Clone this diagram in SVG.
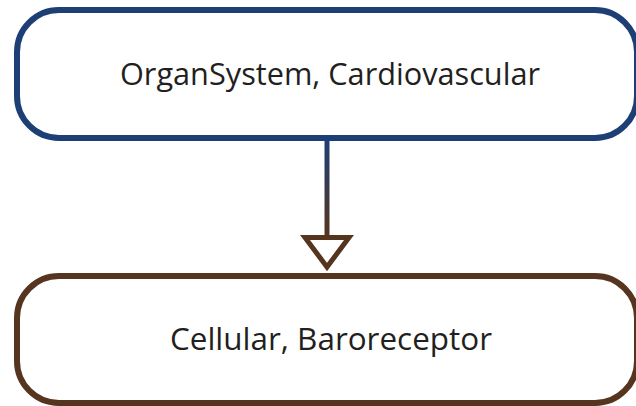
<svg xmlns="http://www.w3.org/2000/svg" width="636" height="406" viewBox="0 0 636 406">
  <style>
    .box { fill: #ffffff; stroke-width: 6; }
    .label { font-family: "Open Sans", "Liberation Sans", sans-serif; font-size: 31px; fill: #231f20; text-anchor: middle; }
  </style>
  <defs>
    <linearGradient id="edgeGrad" gradientUnits="userSpaceOnUse" x1="0" y1="140" x2="0" y2="236">
      <stop offset="0" stop-color="#1e3f75"/>
      <stop offset="1" stop-color="#55351f"/>
    </linearGradient>
  </defs>
  <rect width="636" height="406" fill="#ffffff"/>
  <g id="connectors">
    <line x1="327" y1="139" x2="327" y2="237" stroke="url(#edgeGrad)" stroke-width="5"/>
    <polygon points="305,237.5 349,237.5 327,267" fill="#ffffff" stroke="#55351f" stroke-width="5" stroke-linejoin="miter"/>
  </g>
  <g id="node-organsystem">
    <rect class="box" x="17" y="10" width="620" height="128" rx="42" ry="42" stroke="#1e3f75"/>
    <text class="label" x="330" y="85" textLength="420" lengthAdjust="spacingAndGlyphs">OrganSystem, Cardiovascular</text>
  </g>
  <g id="node-cellular">
    <rect class="box" x="17" y="276" width="620" height="127" rx="42" ry="42" stroke="#55351f"/>
    <text class="label" x="331" y="350" textLength="322" lengthAdjust="spacingAndGlyphs">Cellular, Baroreceptor</text>
  </g>
</svg>
